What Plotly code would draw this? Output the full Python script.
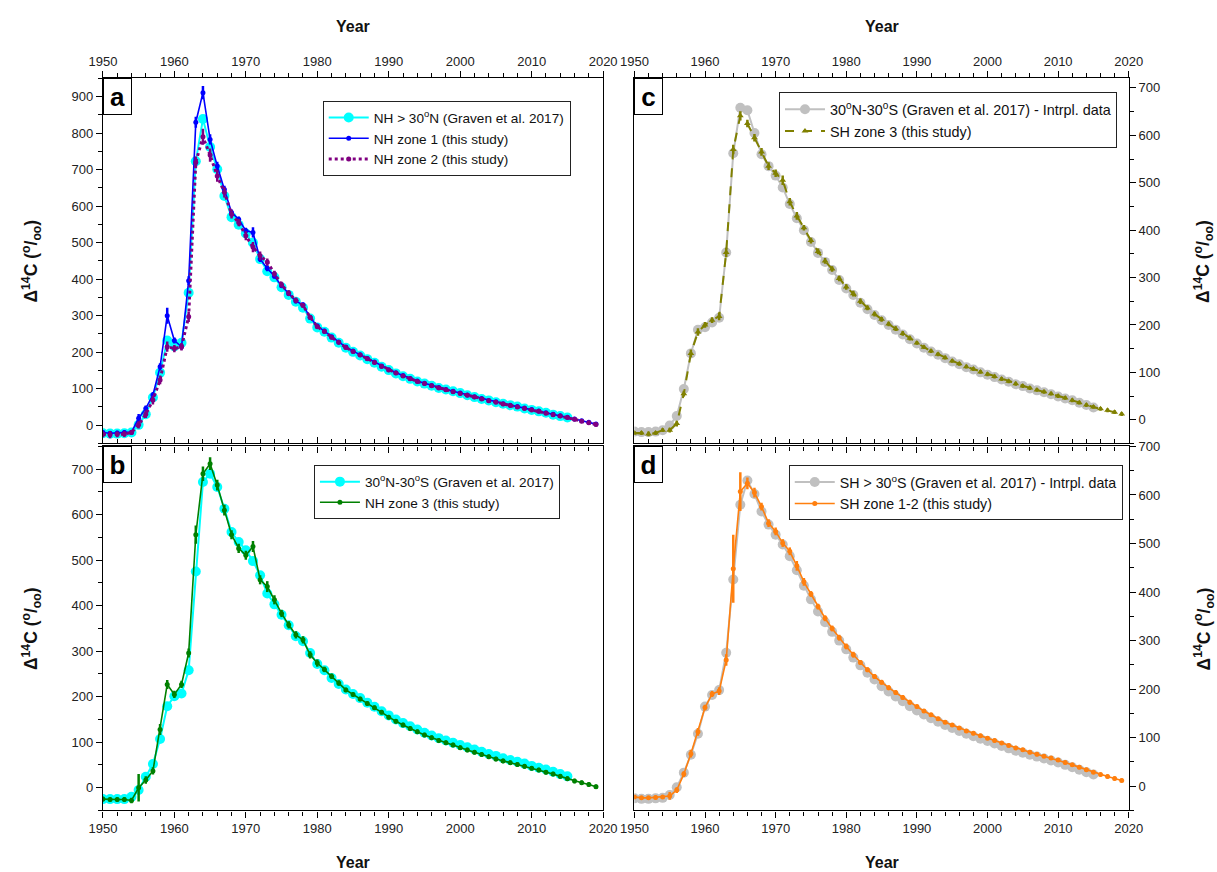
import plotly.graph_objects as go

# ---------------------------------------------------------------- data
YEARS_GRAVEN = list(range(1950, 2016))   # 1950-2015
YEARS_STUDY = list(range(1950, 2020))    # 1950-2019

# panel a
nh_graven = [-22, -23, -23, -22, -20, 1, 30, 76, 144, 232,
             216, 226, 363, 723, 839, 762, 701, 628, 570, 549,
             525, 500, 455, 422, 405, 378, 357, 338, 322, 292,
             268, 256, 240, 226, 212, 201, 191, 181, 171, 160,
             151, 142, 134, 127, 120, 114, 108, 102, 98, 93,
             88, 82, 77, 72, 68, 63, 59, 55, 51, 46,
             42, 38, 34, 29, 25, 21]
nh_zone1 = [-20, -22, -21, -20, -19, 19, 46, 83, 160, 300,
            232, 215, 396, 830, 911, 783, 710, 646, 583, 564,
            533, 528, 455, 430, 408, 382, 360, 340, 330, 295,
            272, 258, 242, 228, 214, 203, 193, 183, 173, 162,
            152, 144, 136, 128, 121, 115, 109, 103, 98, 93,
            88, 83, 78, 73, 68, 64, 59, 55, 51, 47,
            43, 39, 34, 30, 26, 22, 17, 12, 8, 3]
nh_zone1_err = [6, 6, 6, 6, 6, 12, 8, 8, 10, 22,
                8, 8, 12, 15, 18, 14, 12, 10, 8, 8,
                8, 14, 8, 8, 6, 6, 6, 6, 6, 6,
                6, 6, 5, 5, 5, 5, 5, 5, 5, 5,
                4, 4, 4, 4, 4, 4, 4, 4, 4, 4,
                4, 4, 4, 4, 4, 4, 4, 4, 4, 4,
                4, 4, 4, 4, 4, 4, 4, 4, 4, 4]
nh_zone2 = [-25, -26, -25, -24, -20, 1, 30, 69, 124, 215,
            210, 215, 297, 720, 790, 740, 683, 638, 578, 555,
            519, 488, 464, 447, 415, 385, 362, 342, 328, 296,
            270, 257, 241, 227, 213, 202, 192, 182, 172, 161,
            151, 143, 135, 127, 120, 114, 108, 102, 97, 92,
            87, 82, 77, 72, 67, 63, 58, 54, 50, 46,
            42, 38, 33, 29, 25, 21, 16, 11, 7, 2]
nh_zone2_err = [8, 10, 8, 8, 6, 10, 10, 12, 12, 14,
                10, 10, 14, 16, 22, 18, 16, 14, 12, 10,
                12, 14, 12, 10, 8, 8, 8, 8, 6, 6,
                6, 6, 6, 6, 6, 5, 5, 5, 5, 5,
                5, 5, 5, 5, 5, 5, 5, 5, 5, 5,
                5, 5, 5, 5, 5, 5, 5, 5, 5, 5,
                5, 5, 5, 5, 5, 5, 5, 5, 5, 5]

# panel b
trop_graven = [-25, -25, -25, -25, -20, -5, 24, 52, 107, 179,
               201, 207, 258, 475, 672, 690, 661, 613, 562, 540,
               522, 498, 467, 427, 403, 380, 357, 333, 322, 296,
               272, 258, 241, 228, 216, 206, 197, 187, 178, 168,
               159, 150, 142, 135, 128, 121, 115, 109, 104, 99,
               94, 89, 84, 79, 74, 70, 65, 61, 57, 53,
               48, 44, 40, 35, 30, 25]
nh_zone3 = [-25, -26, -26, -26, -28, 0, 17, 37, 128, 227,
            205, 227, 296, 556, 690, 712, 665, 610, 556, 526,
            511, 530, 457, 442, 413, 383, 358, 336, 325, 292,
            274, 260, 245, 230, 215, 205, 195, 185, 176, 166,
            155, 146, 138, 130, 123, 116, 110, 104, 99, 94,
            88, 83, 78, 73, 68, 63, 59, 55, 51, 47,
            43, 39, 34, 30, 25, 20, 15, 11, 7, 2]
nh_zone3_err = [5, 5, 5, 5, 6, 30, 8, 8, 12, 10,
                8, 8, 10, 20, 16, 14, 12, 12, 10, 10,
                10, 12, 10, 12, 10, 8, 8, 8, 8, 8,
                8, 6, 6, 6, 5, 5, 5, 5, 5, 5,
                5, 5, 5, 5, 5, 5, 5, 5, 5, 5,
                5, 5, 5, 5, 5, 5, 5, 5, 5, 5,
                5, 5, 5, 5, 5, 5, 5, 5, 5, 5]

# panel c
trop_graven_intrp = [-25, -26, -26, -25, -22, -12, 8, 65, 140, 190,
                     195, 205, 215, 353, 562, 658, 653, 605, 560, 535,
                     515, 490, 455, 425, 400, 375, 352, 333, 316, 295,
                     277, 263, 247, 233, 221, 210, 200, 190, 180, 170,
                     161, 152, 144, 137, 130, 123, 117, 111, 106, 100,
                     95, 90, 85, 80, 75, 71, 66, 62, 58, 54,
                     49, 45, 41, 36, 31, 26]
sh_zone3 = [-28, -28, -30, -28, -22, -22, -8, 55, 140, 185,
            200, 210, 218, 353, 570, 641, 625, 595, 565, 535,
            520, 505, 460, 430, 405, 378, 355, 335, 318, 298,
            280, 266, 250, 236, 223, 212, 202, 192, 182, 172,
            162, 153, 145, 138, 131, 124, 118, 112, 107, 101,
            96, 91, 86, 81, 76, 71, 67, 63, 59, 55,
            50, 46, 41, 36, 31, 27, 23, 20, 16, 12]
sh_zone3_err = [4, 4, 5, 4, 4, 5, 6, 6, 8, 8,
                6, 6, 8, 10, 10, 10, 8, 8, 8, 8,
                8, 10, 8, 8, 6, 6, 6, 6, 6, 6,
                6, 6, 6, 5, 5, 5, 5, 5, 5, 5,
                4, 4, 4, 4, 4, 4, 4, 4, 4, 4,
                4, 4, 4, 4, 4, 4, 4, 4, 4, 4,
                4, 4, 4, 4, 4, 4, 4, 4, 4, 4]

# panel d
sh_graven_intrp = [-25, -26, -26, -25, -24, -18, -2, 28, 65, 108,
                   164, 188, 198, 275, 426, 580, 630, 602, 566, 539,
                   518, 498, 474, 445, 413, 385, 360, 338, 318, 300,
                   282, 265, 249, 234, 220, 206, 195, 185, 175, 165,
                   156, 148, 140, 133, 126, 120, 114, 108, 103, 98,
                   93, 88, 83, 78, 73, 69, 65, 61, 57, 53,
                   49, 44, 39, 34, 29, 24]
sh_zone12 = [-22, -24, -24, -23, -22, -20, -8, 25, 67, 112,
             162, 190, 196, 260, 448, 607, 624, 605, 576, 542,
             525, 501, 484, 454, 421, 396, 370, 346, 325, 306,
             288, 271, 255, 240, 226, 214, 203, 193, 183, 173,
             164, 155, 147, 139, 132, 126, 120, 114, 109, 104,
             99, 94, 89, 84, 79, 75, 70, 66, 62, 58,
             54, 49, 44, 39, 34, 29, 24, 20, 16, 12]
sh_zone12_err = [4, 4, 4, 4, 4, 8, 6, 6, 8, 8,
                 6, 6, 8, 12, 70, 40, 12, 10, 8, 8,
                 8, 8, 8, 10, 8, 6, 6, 6, 6, 6,
                 6, 6, 5, 5, 5, 5, 5, 5, 5, 5,
                 4, 4, 4, 4, 4, 4, 4, 4, 4, 4,
                 4, 4, 4, 4, 4, 4, 4, 4, 4, 4,
                 4, 4, 4, 4, 4, 4, 4, 4, 4, 4]

X_TICKS = [1950, 1960, 1970, 1980, 1990, 2000, 2010, 2020]

# ---------------------------------------------------------------- layout geometry
W, H = 1217, 872
XL = [91 / W, 603 / W]
XR = [635 / W, 1141 / W]
YT = [1 - 440 / H, 1 - 72 / H]
YB = [1 - 810 / H, 1 - 443 / H]

FONT = "Liberation Sans, Arial, sans-serif"
CYAN = "#00FFFF"
GRAY = "#C0C0C0"

fig = go.Figure()


def reference_trace(x, y, color, name, xa, ya, legend):
    fig.add_trace(go.Scatter(
        x=x, y=y, mode="lines+markers", name=name,
        line=dict(color=color, width=2),
        marker=dict(color=color, size=10, symbol="circle"),
        xaxis=xa, yaxis=ya, legend=legend))


def study_trace(x, y, err, color, name, xa, ya, legend, dash="solid",
                symbol="circle", width=1.6, msize=5):
    fig.add_trace(go.Scatter(
        x=x, y=y, mode="lines+markers", name=name,
        line=dict(color=color, width=width, dash=dash),
        marker=dict(color=color, size=msize, symbol=symbol),
        error_y=dict(type="data", array=err, visible=True,
                     color=color, thickness=2.5, width=0),
        xaxis=xa, yaxis=ya, legend=legend))


# panel a
reference_trace(YEARS_GRAVEN, nh_graven, CYAN,
                "NH > 30<sup>o</sup>N (Graven et al. 2017)", "x", "y", "legend")
study_trace(YEARS_STUDY, nh_zone1, nh_zone1_err, "#0000FF",
            "NH zone 1 (this study)", "x", "y", "legend")
study_trace(YEARS_STUDY, nh_zone2, nh_zone2_err, "#800080",
            "NH zone 2 (this study)", "x", "y", "legend", dash="dot", width=3)

# panel b
reference_trace(YEARS_GRAVEN, trop_graven, CYAN,
                "30<sup>o</sup>N-30<sup>o</sup>S (Graven et al. 2017)", "x2", "y2", "legend2")
study_trace(YEARS_STUDY, nh_zone3, nh_zone3_err, "#008000",
            "NH zone 3 (this study)", "x2", "y2", "legend2")

# panel c
reference_trace(YEARS_GRAVEN, trop_graven_intrp, GRAY,
                "30<sup>o</sup>N-30<sup>o</sup>S (Graven et al. 2017) - Intrpl. data",
                "x3", "y3", "legend3")
study_trace(YEARS_STUDY, sh_zone3, sh_zone3_err, "#808000",
            "SH zone 3 (this study)", "x3", "y3", "legend3", dash="dash",
            symbol="triangle-up", width=2, msize=6)

# panel d
reference_trace(YEARS_GRAVEN, sh_graven_intrp, GRAY,
                "SH > 30<sup>o</sup>S (Graven et al. 2017) - Intrpl. data",
                "x4", "y4", "legend4")
study_trace(YEARS_STUDY, sh_zone12, sh_zone12_err, "#FF7F0E",
            "SH zone 1-2 (this study)", "x4", "y4", "legend4")

# empty traces so the inner-border tick axes get drawn
for xa, ya in [("x5", "y"), ("x6", "y2"), ("x7", "y3"), ("x8", "y4")]:
    fig.add_trace(go.Scatter(x=[None], y=[None], xaxis=xa, yaxis=ya,
                             showlegend=False, hoverinfo="skip"))


def xaxis(domain, anchor, side, labels, ticks, overlaying=None):
    d = dict(domain=domain, anchor=anchor, side=side, range=[1950, 2020],
             tickvals=X_TICKS, ticks=ticks, ticklen=6, tickwidth=1,
             tickcolor="black", showticklabels=labels,
             tickfont=dict(family=FONT, size=13, color="#222"),
             minor=dict(dtick=2, tick0=1950, ticks=ticks, ticklen=4,
                        tickcolor="black", tickwidth=1),
             showline=True, linecolor="black", linewidth=1.2,
             showgrid=False, zeroline=False, mirror=False)
    if overlaying:
        d["overlaying"] = overlaying
    return d


def yaxis(domain, anchor, side, rng, dtick=100):
    return dict(domain=domain, anchor=anchor, side=side, range=rng,
                tick0=0, dtick=dtick, ticks="outside", ticklen=6, tickwidth=1,
                tickcolor="black",
                tickfont=dict(family=FONT, size=13, color="#222"),
                minor=dict(dtick=50, tick0=0, ticks="outside", ticklen=4,
                           tickcolor="black", tickwidth=1),
                showline=True, linecolor="black", linewidth=1.2,
                showgrid=False, zeroline=False, mirror=True)


def legend_box(x_px, y_px, size=13.6):
    return dict(x=x_px / W, y=1 - y_px / H, xanchor="left", yanchor="top",
                bgcolor="white", bordercolor="#222", borderwidth=1,
                font=dict(family=FONT, size=size, color="#111"),
                tracegroupgap=2, itemwidth=40)


fig.update_layout(
    width=W, height=H,
    margin=dict(l=0, r=0, t=0, b=0),
    paper_bgcolor="white", plot_bgcolor="white",
    font=dict(family=FONT, color="#111"),
    xaxis=xaxis(XL, "y", "top", True, "outside"),
    xaxis5=xaxis(XL, "y", "bottom", False, "inside", overlaying="x"),
    xaxis2=xaxis(XL, "y2", "bottom", True, "outside"),
    xaxis6=xaxis(XL, "y2", "top", False, "inside", overlaying="x2"),
    xaxis3=xaxis(XR, "y3", "top", True, "outside"),
    xaxis7=xaxis(XR, "y3", "bottom", False, "inside", overlaying="x3"),
    xaxis4=xaxis(XR, "y4", "bottom", True, "outside"),
    xaxis8=xaxis(XR, "y4", "top", False, "inside", overlaying="x4"),
    yaxis=yaxis(YT, "x", "left", [-50, 950]),
    yaxis2=yaxis(YB, "x2", "left", [-50, 750]),
    yaxis3=yaxis(YT, "x3", "right", [-50, 720]),
    yaxis4=yaxis(YB, "x4", "right", [-50, 700]),
    legend=legend_box(316, 95),
    legend2=legend_box(307, 462),
    legend3=legend_box(783, 86, 14.4),
    legend4=legend_box(793, 462, 14.2),
    showlegend=True,
)

ann = []
title_font = dict(family=FONT, size=16, color="#111")
for xc in [(XL[0] + XL[1]) / 2, (XR[0] + XR[1]) / 2]:
    for yc in [1 - 20 / H, 1 - 862 / H]:
        ann.append(dict(text="<b>Year</b>", x=xc, y=yc, xref="paper",
                        yref="paper", xanchor="center", yanchor="middle",
                        showarrow=False, font=title_font))

ytitle = "<b>\u0394<sup>14</sup>C (<sup>o</sup>/<sub>oo</sub>)</b>"
for xp in [18 / W, 1218 / W]:
    for dom in [YT, YB]:
        ann.append(dict(text=ytitle, x=xp, y=(dom[0] + dom[1]) / 2,
                        xref="paper", yref="paper", xanchor="center",
                        yanchor="middle", showarrow=False, textangle=-90,
                        font=dict(family=FONT, size=17.5, color="#111")))

for letter, xd, yd in [("a", XL, YT), ("b", XL, YB), ("c", XR, YT), ("d", XR, YB)]:
    ann.append(dict(text=f"<b>{letter}</b>", x=xd[0], y=yd[1], xref="paper",
                    yref="paper", xanchor="left", yanchor="top",
                    showarrow=False, width=27, height=35, borderpad=0,
                    bordercolor="black", borderwidth=1, bgcolor="white",
                    font=dict(family=FONT, size=26, color="black")))

fig.update_layout(annotations=ann)

fig.write_html("out.html")
